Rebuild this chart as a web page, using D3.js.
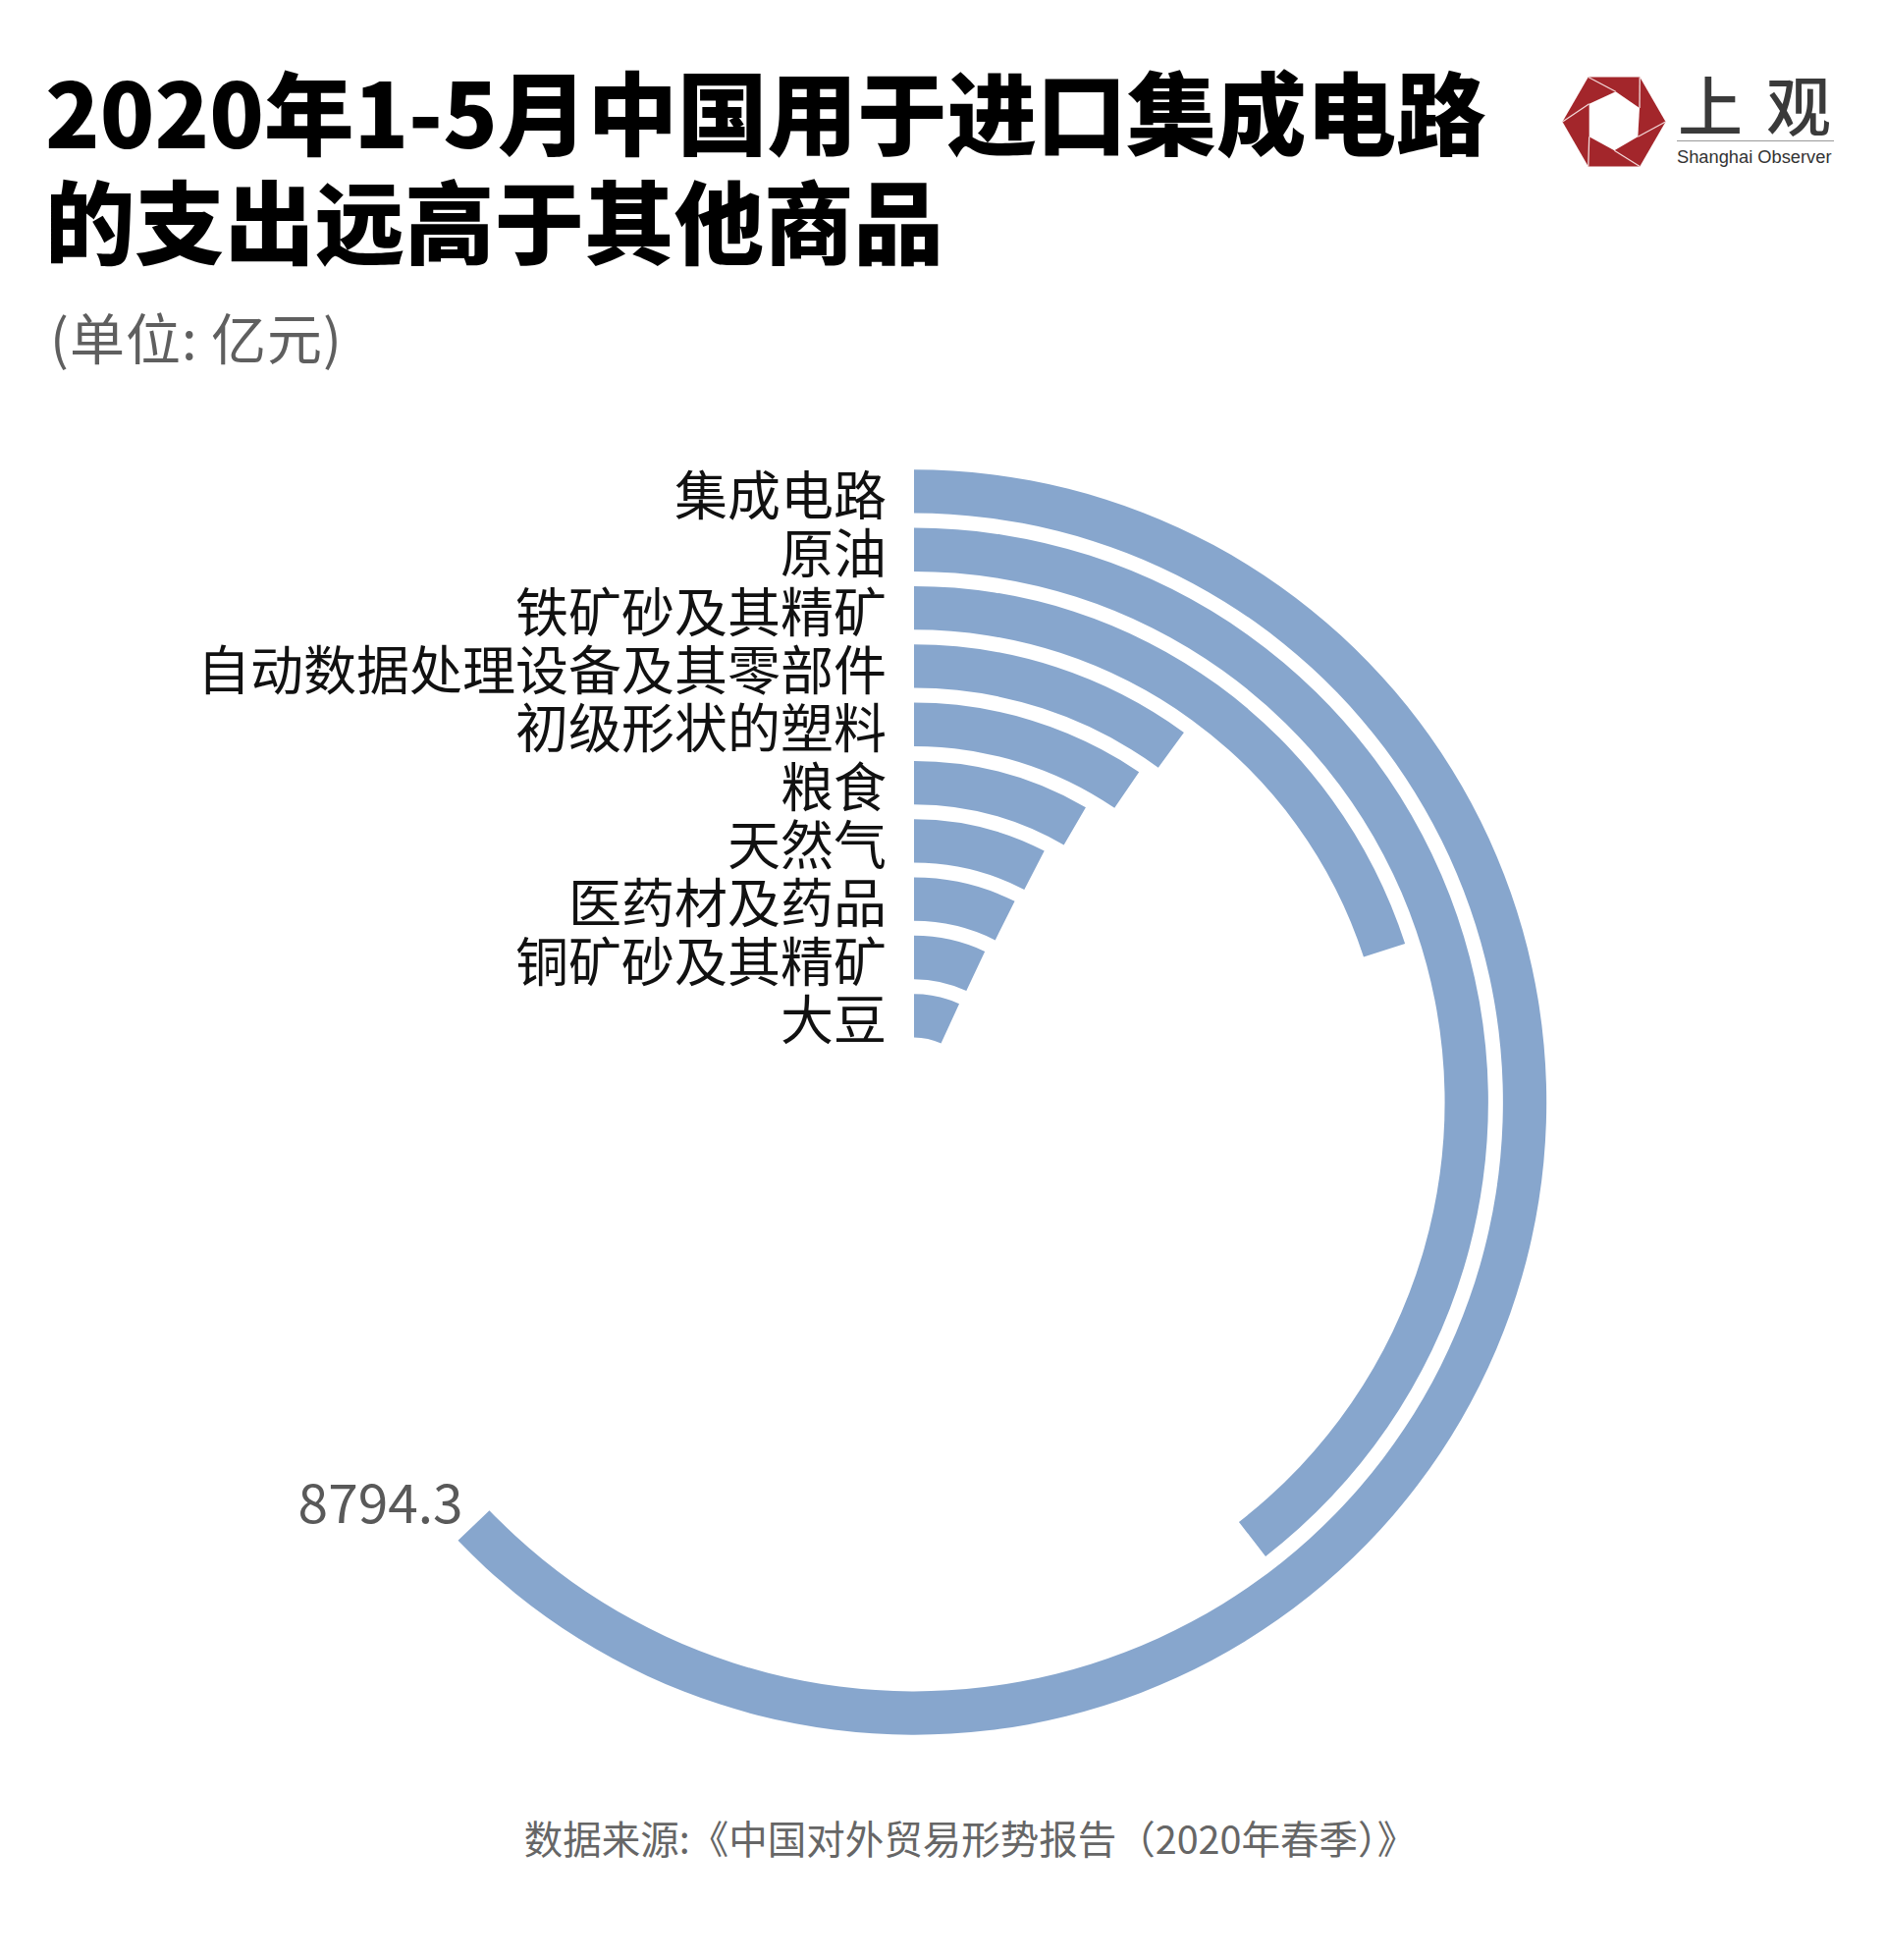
<!DOCTYPE html>
<html>
<head>
<meta charset="utf-8">
<script src="https://cdn.jsdelivr.net/npm/d3@7"></script>
<style>
  html, body { margin: 0; padding: 0; background: #ffffff; }
  svg { display: block; }
</style>
</head>
<body>
<script>
// ---- data ----
const categories = ["集成电路", "原油", "铁矿砂及其精矿", "自动数据处理设备及其零部件", "初级形状的塑料", "粮食", "天然气", "医药材及药品", "铜矿砂及其精矿", "大豆"];
const values = [8794.3, 5532, 2804, 1405, 1333, 1175, 1066, 1035, 979, 959];
const valueLabel = "8794.3";
const titleLines = ["2020年1-5月中国用于进口集成电路", "的支出远高于其他商品"];
const unitText = "(单位: 亿元)";
const sourceText = "数据来源:《中国对外贸易形势报告（2020年春季）》";

// ---- layout ----
const W = 1920, H = 1996;
const cx = 931, cy = 1122.5;
const outerR = 644.2, innerR = 66;
const CJK = '"Noto Sans CJK SC", "Noto Sans", sans-serif';

const svg = d3.select("body").append("svg").attr("width", W).attr("height", H)
  .style("font-family", CJK);
svg.append("rect").attr("width", W).attr("height", H).attr("fill", "#ffffff");

// Title
const title = svg.append("text")
  .attr("font-size", 91.5).attr("font-weight", 900).attr("fill", "#000");
title.selectAll("tspan").data(titleLines).join("tspan")
  .attr("x", 46).attr("y", (d, i) => 151 + i * 111).text(d => d);

// unit
svg.append("text").attr("x", 51).attr("y", 366)
  .attr("font-size", 56).attr("letter-spacing", 1).attr("fill", "#5f5f5f").text(unitText);

// Source
svg.append("text").attr("x", 988).attr("y", 1888)
  .attr("text-anchor", "middle").attr("font-size", 39.5).attr("fill", "#666").text(sourceText);

// Logo
const logo = svg.append("g");
const lc = [1644, 124], lR = 52.5;
const outerPts = d3.range(6).map(k => [lc[0] + lR * Math.cos(k * Math.PI / 3), lc[1] + lR * Math.sin(k * Math.PI / 3)]);
const holePts = [[1645.7, 93.3], [1670, 110], [1668.3, 139.3], [1644.3, 153.3], [1618.7, 139.3], [1618.7, 105.7]];
const linkIdx = [4, 5, 0, 1, 2, 3];
logo.append("path").attr("d", "M" + outerPts.join("L") + "Z").attr("fill", "#a3262b");
logo.append("path").attr("d", "M" + holePts.join("L") + "Z").attr("fill", "#fff");
holePts.forEach((p, i) => {
  logo.append("line").attr("x1", p[0]).attr("y1", p[1])
    .attr("x2", outerPts[linkIdx[i]][0]).attr("y2", outerPts[linkIdx[i]][1])
    .attr("stroke", "#f3d9d9").attr("stroke-width", 1.3);
});
logo.append("text").attr("x", 1709).attr("y", 133).attr("font-size", 66)
  .attr("font-weight", 500)
  .attr("letter-spacing", 24).attr("fill", "#3a3a3a").text("上观");
logo.append("line").attr("x1", 1708).attr("x2", 1868).attr("y1", 143.5).attr("y2", 143.5)
  .attr("stroke", "#9a9a9a").attr("stroke-width", 1);
logo.append("text").attr("x", 1708).attr("y", 166)
  .style("font-family", '"Liberation Sans", Arial, sans-serif').attr("font-size", 18.3)
  .attr("fill", "#333").text("Shanghai Observer");

// Chart
const g = svg.append("g").attr("transform", `translate(${cx},${cy})`);
const r = d3.scaleBand().domain(categories).range([outerR, innerR]).paddingInner(0.253).paddingOuter(0);
const a = d3.scaleLinear().domain([0, 14000]).range([0, 2 * Math.PI]);
const arc = d3.arc()
  .innerRadius(d => r(d.cat))
  .outerRadius(d => r(d.cat) + r.bandwidth())
  .startAngle(0)
  .endAngle(d => a(d.value));
const rows = categories.map((c, i) => ({ cat: c, value: values[i] }));

g.selectAll("path.bar").data(rows).join("path")
  .attr("class", "bar").attr("d", arc).attr("fill", "#87a6cd");

g.selectAll("text.lab").data(rows).join("text")
  .attr("class", "lab")
  .attr("x", -28)
  .attr("y", d => -(r(d.cat) + r.bandwidth() / 2) + 1)
  .attr("text-anchor", "end")
  .attr("dominant-baseline", "central")
  .attr("font-size", 54).attr("fill", "#111")
  .text(d => d.cat);

// value label at end of the largest arc
const firstRow = rows[0];
const endA = a(firstRow.value);
const ro = r(firstRow.cat) + r.bandwidth();
g.append("text")
  .attr("x", Math.sin(endA) * ro + 5)
  .attr("y", -Math.cos(endA) * ro - 18)
  .attr("text-anchor", "end")
  .attr("font-size", 55).attr("fill", "#595959")
  .text(valueLabel);
</script>
</body>
</html>
